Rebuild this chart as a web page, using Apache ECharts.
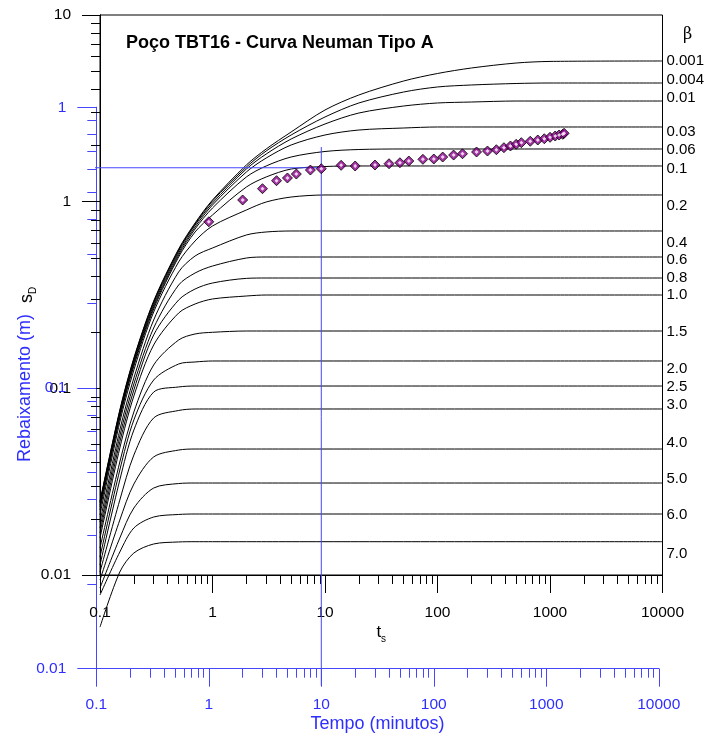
<!DOCTYPE html>
<html><head><meta charset="utf-8">
<script src="https://cdn.jsdelivr.net/npm/echarts@6/dist/echarts.min.js"></script>
<style>html,body{margin:0;padding:0;background:#fff}#c{width:707px;height:738px}</style>
</head><body><div id="c"></div>
<script>
const FONT = 'Liberation Sans, Arial, Helvetica, sans-serif';
const BLUE_LINE = '#4646ff';
const BLUE_TXT = '#2e2eff';

// dimensionless time t_s of the type curves
const tGrid = [0.1, 0.15, 0.2, 0.3, 0.5, 0.7, 1, 2, 3, 5, 10, 20, 50, 100, 200, 500, 1000, 10000];
const betaLabels = ['0.001','0.004','0.01','0.03','0.06','0.1','0.2','0.4','0.6','0.8','1.0','1.5','2.0','2.5','3.0','4.0','5.0','6.0','7.0'];

// s_D values of each Neuman type A curve, one per tGrid entry
const sD_0001 = [0.0249, 0.0765, 0.1454, 0.2937, 0.5577, 0.7687, 1.021, 1.572, 1.915, 2.362, 3.098, 3.728, 4.43, 4.86, 5.20, 5.53, 5.64, 5.67];
const sD_0004 = [0.0246, 0.0756, 0.1436, 0.290, 0.551, 0.759, 1.008, 1.533, 1.868, 2.276, 2.842, 3.378, 3.868, 4.115, 4.217, 4.296, 4.322, 4.322];
const sD_001  = [0.0243, 0.0747, 0.1418, 0.2865, 0.544, 0.75, 0.9837, 1.496, 1.80, 2.166, 2.607, 2.985, 3.254, 3.378, 3.418, 3.461, 3.461, 3.461];
const sD_003  = [0.0237, 0.0729, 0.1384, 0.2795, 0.5309, 0.7317, 0.9597, 1.442, 1.713, 2.012, 2.276, 2.42, 2.481, 2.512, 2.512, 2.512, 2.512, 2.512];
const sD_006  = [0.02313, 0.0711, 0.135, 0.2727, 0.5179, 0.714, 0.9249, 1.356, 1.553, 1.735, 1.857, 1.903, 1.915, 1.915, 1.915, 1.915, 1.915, 1.915];
const sD_01   = [0.0223, 0.0694, 0.1317, 0.2661, 0.5053, 0.688, 0.8484, 1.198, 1.356, 1.496, 1.543, 1.553, 1.553, 1.553, 1.553, 1.553, 1.553, 1.553];
const sD_02   = [0.02097, 0.066, 0.1254, 0.2564, 0.4752, 0.6156, 0.7409, 0.9023, 0.996, 1.059, 1.086, 1.086, 1.086, 1.086, 1.086, 1.086, 1.086, 1.086];
const sD_04   = [0.01923, 0.0598, 0.1136, 0.2323, 0.42, 0.5116, 0.5646, 0.663, 0.688, 0.6965, 0.6965, 0.6965, 0.6965, 0.6965, 0.6965, 0.6965, 0.6965, 0.6965];
const sD_06   = [0.01786, 0.0555, 0.1055, 0.2105, 0.3577, 0.4148, 0.4521, 0.499, 0.5053, 0.5053, 0.5053, 0.5053, 0.5053, 0.5053, 0.5053, 0.5053, 0.5053, 0.5053];
const sD_08   = [0.01679, 0.0516, 0.098, 0.1931, 0.2973, 0.3404, 0.3666, 0.3882, 0.390, 0.390, 0.390, 0.390, 0.390, 0.390, 0.390, 0.390, 0.390, 0.390];
const sD_10   = [0.01578, 0.0479, 0.091, 0.1707, 0.2532, 0.283, 0.3011, 0.3123, 0.3162, 0.3162, 0.3162, 0.3162, 0.3162, 0.3162, 0.3162, 0.3162, 0.3162, 0.3162];
const sD_15   = [0.01395, 0.0403, 0.0747, 0.1334, 0.1815, 0.1955, 0.1996, 0.2028, 0.2028, 0.2028, 0.2028, 0.2028, 0.2028, 0.2028, 0.2028, 0.2028, 0.2028, 0.2028];
const sD_20   = [0.01249, 0.0365, 0.0677, 0.1108, 0.135, 0.1384, 0.1401, 0.1401, 0.1401, 0.1401, 0.1401, 0.1401, 0.1401, 0.1401, 0.1401, 0.1401, 0.1401, 0.1401];
const sD_25   = [0.01131, 0.0323, 0.0598, 0.0955, 0.1017, 0.1029, 0.1029, 0.1029, 0.1029, 0.1029, 0.1029, 0.1029, 0.1029, 0.1029, 0.1029, 0.1029, 0.1029, 0.1029];
const sD_30   = [0.01038, 0.0252, 0.0439, 0.0694, 0.0761, 0.0775, 0.0775, 0.0775, 0.0775, 0.0775, 0.0775, 0.0775, 0.0775, 0.0775, 0.0775, 0.0775, 0.0775, 0.0775];
const sD_40   = [0.0094, 0.0197, 0.0307, 0.0429, 0.0467, 0.0473, 0.0473, 0.0473, 0.0473, 0.0473, 0.0473, 0.0473, 0.0473, 0.0473, 0.0473, 0.0473, 0.0473, 0.0473];
const sD_50   = [0.00852, 0.01578, 0.02285, 0.02924, 0.0309, 0.0311, 0.0311, 0.0311, 0.0311, 0.0311, 0.0311, 0.0311, 0.0311, 0.0311, 0.0311, 0.0311, 0.0311, 0.0311];
const sD_60   = [0.00781, 0.01328, 0.01786, 0.02045, 0.0211, 0.02122, 0.02122, 0.02122, 0.02122, 0.02122, 0.02122, 0.02122, 0.02122, 0.02122, 0.02122, 0.02122, 0.02122, 0.02122];
const sD_70   = [0.00526, 0.01038, 0.01312, 0.01466, 0.01503, 0.01508, 0.01508, 0.01508, 0.01508, 0.01508, 0.01508, 0.01508, 0.01508, 0.01508, 0.01508, 0.01508, 0.01508, 0.01508];
const curveValues = [sD_0001, sD_0004, sD_001, sD_003, sD_006, sD_01, sD_02, sD_04, sD_06, sD_08, sD_10, sD_15, sD_20, sD_25, sD_30, sD_40, sD_50, sD_60, sD_70];

// observed drawdown (m) vs time (minutes)
const timeMin  = [1, 2, 3, 4, 5, 6, 8, 10, 15, 20, 30, 40, 50, 60, 80, 100, 120, 150, 180, 240, 300, 360, 420, 480, 540, 600, 720, 840, 960, 1080, 1200, 1300, 1400, 1440];
const drawdown = [0.391, 0.4675, 0.5129, 0.5477, 0.56, 0.5785, 0.5977, 0.6041, 0.6214, 0.6178, 0.6228, 0.6295, 0.6346, 0.6436, 0.6526, 0.6543, 0.665, 0.676, 0.6832, 0.693, 0.6986, 0.7061, 0.718, 0.728, 0.7383, 0.7481, 0.7567, 0.7647, 0.7728, 0.7818, 0.7902, 0.7967, 0.8013, 0.808];

// match-point guide lines (minutes, m)
const matchLineH = [[0.029, 0.609], [10, 0.609]];
const matchLineV = [[10, 0.722], [10, 0.0087]];

// tick labels
const xTickLabels = [0.1, 1, 10, 100, 1000, 10000];
const yTickLabels = [0.01, 0.1, 1, 10];
const yBlueTickLabels = [0.01, 0.1, 1];

// label nudges (px) for beta labels at right
const labelNudge = [0, -3, -3, 5, 1, 3, 11, 12, 3, 0, 0, 1, 8, 1, -4, -6, -4, 1, 12];

function minors(decades) {
  const out = [];
  decades.forEach(d => { for (let k = 2; k <= 9; k++) out.push(+(d * k).toPrecision(6)); });
  return out;
}
const fmt = v => String(+(+v).toPrecision(6));
const TICK_FS = 15.5;

function axisPair(opts) {
  const { gridIndex, min, max, major, minor, color, txtColor, position, margin, majorLen, name, nameGap, nameTextStyle } = opts;
  const base = {
    type: 'log', logBase: 10, gridIndex, min, max, position,
    splitLine: { show: false }, minorTick: { show: false }, minorSplitLine: { show: false },
    axisLine: { show: true, onZero: false, lineStyle: { color, width: 1 } }
  };
  return [
    Object.assign({}, base, {
      name, nameLocation: 'middle', nameGap, nameTextStyle, nameMoveOverlap: false,
      axisTick: { show: true, inside: false, length: majorLen, customValues: major, lineStyle: { color, width: 1 } },
      axisLabel: { show: true, customValues: major, formatter: fmt, margin, color: txtColor, fontSize: TICK_FS, fontFamily: FONT, hideOverlap: false, showMinLabel: true, showMaxLabel: true }
    }),
    Object.assign({}, base, {
      axisTick: { show: true, inside: false, length: 9, customValues: minor, lineStyle: { color, width: 1 } },
      axisLabel: { show: false }
    })
  ];
}

const subRich = (size) => ({
  a: { fontSize: size, fontFamily: FONT, color: '#000', verticalAlign: 'top', lineHeight: size },
  b: { fontSize: 10, fontFamily: FONT, color: '#000', verticalAlign: 'top', padding: [10, 0, 0, 0], lineHeight: 10 }
});

const xAxes = [
  ...axisPair({ gridIndex: 0, min: 0.1, max: 10000, major: xTickLabels, minor: minors([0.1,1,10,100,1000]), color: '#000', txtColor: '#000', position: 'bottom', margin: 30, majorLen: 18,
    name: '{a|t}{b|s}', nameGap: 49, nameTextStyle: { rich: subRich(17) } }),
  ...axisPair({ gridIndex: 1, min: 0.1, max: 10000, major: xTickLabels, minor: minors([0.1,1,10,100,1000]), color: BLUE_LINE, txtColor: BLUE_TXT, position: 'bottom', margin: 28, majorLen: 18,
    name: 'Tempo (minutos)', nameGap: 46, nameTextStyle: { fontSize: 18, fontFamily: FONT, color: BLUE_TXT } })
];
const yAxes = [
  ...axisPair({ gridIndex: 0, min: 0.01, max: 10, major: yTickLabels, minor: minors([0.01,0.1,1]), color: '#000', txtColor: '#000', position: 'left', margin: 29, majorLen: 18,
    name: '{a|s}{b|D}', nameGap: 64, nameTextStyle: { rich: subRich(18) } }),
  ...axisPair({ gridIndex: 1, min: 0.01, max: 1, major: yBlueTickLabels, minor: minors([0.01,0.1]), color: BLUE_LINE, txtColor: BLUE_TXT, position: 'left', margin: 30, majorLen: 19,
    name: 'Rebaixamento (m)', nameGap: 62, nameTextStyle: { fontSize: 18, fontFamily: FONT, color: BLUE_TXT } })
];

const series = curveValues.map((vals, i) => ({
  type: 'line', name: betaLabels[i], xAxisIndex: 0, yAxisIndex: 0,
  data: tGrid.map((t, j) => [t, vals[j]]),
  symbol: 'none', showSymbol: false, clip: false, smooth: 0.3, silent: true, z: 2,
  lineStyle: { color: '#000', width: 1 },
  endLabel: { show: true, formatter: betaLabels[i], distance: 4, offset: [0, labelNudge[i]], color: '#000', fontSize: 15, fontFamily: FONT, align: 'left', verticalAlign: 'middle' }
}));

series.push({
  type: 'line', xAxisIndex: 2, yAxisIndex: 2, data: matchLineH, symbol: 'none', clip: false, silent: true, z: 3,
  lineStyle: { color: BLUE_LINE, width: 1 }
});
series.push({
  type: 'line', xAxisIndex: 2, yAxisIndex: 2, data: matchLineV, symbol: 'none', clip: false, silent: true, z: 3,
  lineStyle: { color: BLUE_LINE, width: 1 }
});
const obs = timeMin.map((t, i) => [t, drawdown[i]]);
series.push({
  type: 'scatter', xAxisIndex: 2, yAxisIndex: 2, data: obs, symbol: 'diamond', symbolSize: 10, clip: false, silent: true, z: 5,
  itemStyle: { color: '#8e008e', borderColor: '#000', borderWidth: 1 }
});
series.push({
  type: 'scatter', xAxisIndex: 2, yAxisIndex: 2, data: obs, symbol: 'diamond', symbolSize: 4, clip: false, silent: true, z: 6,
  itemStyle: { color: '#fff' }
});

const chart = echarts.init(document.getElementById('c'), null, { renderer: 'canvas' });
chart.setOption({
  animation: false,
  backgroundColor: '#fff',
  title: [
    { text: 'Poço TBT16 - Curva Neuman Tipo A', left: 126, top: 34, padding: 0, textStyle: { fontSize: 18, fontWeight: 'bold', fontFamily: FONT, color: '#000' } },
    { text: 'β', left: 683, top: 27, padding: 0, textStyle: { fontSize: 16, fontWeight: 'normal', fontFamily: 'DejaVu Serif, serif', color: '#000' } }
  ],
  grid: [
    { left: 100, top: 15, width: 562.5, height: 560, show: true, borderColor: '#000', borderWidth: 1, backgroundColor: 'transparent', containLabel: false, outerBoundsMode: 'none' },
    { left: 96.3, top: 107.3, width: 562.5, height: 561.4, show: false, containLabel: false, outerBoundsMode: 'none' }
  ],
  xAxis: xAxes,
  yAxis: yAxes,
  series
});
</script></body></html>
